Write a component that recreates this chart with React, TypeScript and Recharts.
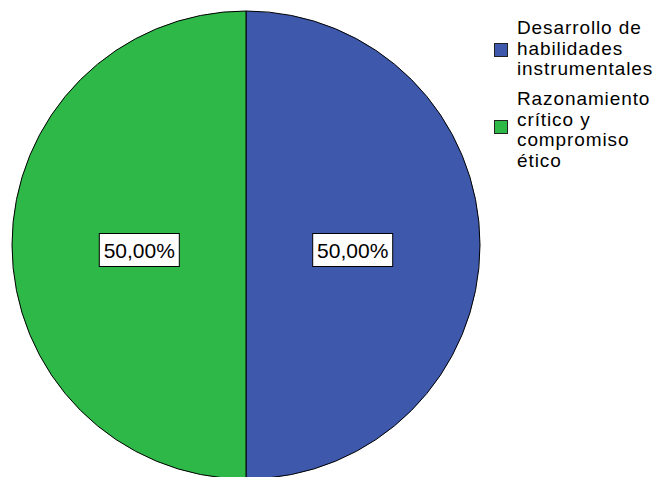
import React from 'react';
import { PieChart, Pie, Cell, Legend } from 'recharts';

const categories = ['Desarrollo de habilidades instrumentales', 'Razonamiento crítico y compromiso ético'];
const legendLines = [
    ['Desarrollo de', 'habilidades', 'instrumentales'],
    ['Razonamiento', 'crítico y', 'compromiso', 'ético'],
];
const values = [50, 50];
const colors = ['#3E58AC', '#2EB848'];

const data = categories.map((name, i) => ({ name, value: values[i] }));
const total = values.reduce((a, b) => a + b, 0);

const FONT = '"Liberation Sans", Arial, sans-serif';

const renderLabel = ({ cx, cy, midAngle, outerRadius, value }: any) => {
    const RAD = Math.PI / 180;
    const r = outerRadius * 0.456;
    const x = cx + r * Math.cos(-midAngle * RAD);
    const y = cy + r * Math.sin(-midAngle * RAD) + 5;
    const text = ((value / total) * 100).toFixed(2).replace('.', ',') + '%';
    return (
        <g>
            <rect x={x - 40} y={y - 16.5} width={80} height={33} fill="#fff" stroke="#000" strokeWidth={1} />
            <text x={x} y={y + 7.5} textAnchor="middle" fontFamily={FONT} fontSize={21} fill="#000">
                {text}
            </text>
        </g>
    );
};

const CustomLegend = () => {
    const tops = [34, 105];
    const boxes = [43, 120];
    return (
        <svg width={657} height={477} style={{ position: 'absolute', left: 0, top: 0, pointerEvents: 'none' }}>
            {legendLines.map((lines, i) => (
                <g key={i}>
                    <rect x={494.5} y={boxes[i] + 0.5} width={13} height={13} fill={colors[i]} stroke="#222" strokeWidth={1} />
                    {lines.map((ln, j) => (
                        <text key={j} x={517} y={tops[i] + j * 20.5} fontFamily={FONT} fontSize={19} letterSpacing={0.9} fill="#000">
                            {ln}
                        </text>
                    ))}
                </g>
            ))}
        </svg>
    );
};

export default function App() {
    return (
        <div style={{ position: 'absolute', left: 0, top: 0, width: 657, height: 477, background: '#fff', overflow: 'hidden' }}>
            <PieChart width={657} height={477} margin={{ top: 0, right: 0, bottom: 0, left: 0 }}>
                <Pie
                    data={data}
                    dataKey="value"
                    nameKey="name"
                    cx={246}
                    cy={245}
                    outerRadius={234}
                    startAngle={90}
                    endAngle={-270}
                    stroke="#000"
                    strokeWidth={1}
                    label={renderLabel}
                    labelLine={false}
                    isAnimationActive={false}
                >
                    {data.map((d, i) => (
                        <Cell key={d.name} fill={colors[i]} />
                    ))}
                </Pie>
                <Legend content={<CustomLegend />} wrapperStyle={{ position: 'absolute', left: 0, top: 0, width: 657, height: 477 }} />
            </PieChart>
        </div>
    );
}
